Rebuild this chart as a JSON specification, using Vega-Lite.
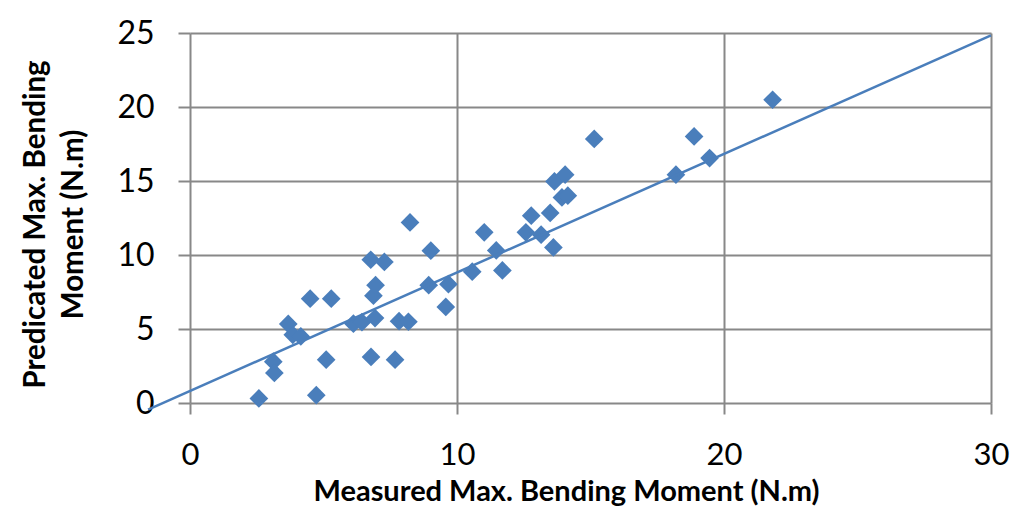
{
  "$schema": "https://vega.github.io/schema/vega-lite/v6.json",
  "autosize": "none",
  "width": 801,
  "height": 370,
  "padding": {"left": 190, "top": 33, "right": 22, "bottom": 106},
  "background": "white",
  "config": {"view": {"stroke": null}, "font": "Lato"},
  "datasets": {
    "points": [
      {"measured": 2.58, "predicted": 0.31},
      {"measured": 3.12, "predicted": 2.79},
      {"measured": 3.16, "predicted": 2.03},
      {"measured": 3.68, "predicted": 5.34},
      {"measured": 3.85, "predicted": 4.61},
      {"measured": 4.15, "predicted": 4.50},
      {"measured": 4.50, "predicted": 7.05},
      {"measured": 4.73, "predicted": 0.53},
      {"measured": 5.10, "predicted": 2.93},
      {"measured": 5.29, "predicted": 7.05},
      {"measured": 6.12, "predicted": 5.36},
      {"measured": 6.44, "predicted": 5.46},
      {"measured": 6.77, "predicted": 9.68},
      {"measured": 6.78, "predicted": 3.11},
      {"measured": 6.87, "predicted": 7.25},
      {"measured": 6.95, "predicted": 7.96},
      {"measured": 6.93, "predicted": 5.74},
      {"measured": 7.28, "predicted": 9.53},
      {"measured": 7.68, "predicted": 2.93},
      {"measured": 7.83, "predicted": 5.53},
      {"measured": 8.18, "predicted": 5.49},
      {"measured": 8.24, "predicted": 12.20},
      {"measured": 9.02, "predicted": 10.29},
      {"measured": 8.94, "predicted": 7.96},
      {"measured": 9.68, "predicted": 8.03},
      {"measured": 9.58, "predicted": 6.49},
      {"measured": 10.57, "predicted": 8.87},
      {"measured": 11.02, "predicted": 11.53},
      {"measured": 11.47, "predicted": 10.31},
      {"measured": 11.70, "predicted": 8.96},
      {"measured": 12.58, "predicted": 11.53},
      {"measured": 12.78, "predicted": 12.66},
      {"measured": 13.15, "predicted": 11.37},
      {"measured": 13.49, "predicted": 12.84},
      {"measured": 13.61, "predicted": 10.51},
      {"measured": 13.65, "predicted": 14.97},
      {"measured": 14.05, "predicted": 15.43},
      {"measured": 13.93, "predicted": 13.89},
      {"measured": 14.15, "predicted": 14.01},
      {"measured": 15.14, "predicted": 17.84},
      {"measured": 18.20, "predicted": 15.43},
      {"measured": 18.88, "predicted": 18.01},
      {"measured": 19.46, "predicted": 16.55},
      {"measured": 21.82, "predicted": 20.49}
    ],
    "trend": [
      {"measured": -1.57, "predicted": -0.45},
      {"measured": 30, "predicted": 24.84}
    ]
  },
  "layer": [
    {
      "data": {"name": "points"},
      "mark": {"type": "point", "shape": "diamond", "filled": true, "opacity": 1, "size": 350, "color": "#4a7ebb"},
      "encoding": {
        "x": {
          "field": "measured", "type": "quantitative",
          "scale": {"domain": [0, 30], "nice": false},
          "axis": {
            "values": [0, 10, 20, 30],
            "title": "Measured Max. Bending Moment (N.m)",
            "grid": true, "gridColor": "#888888", "gridWidth": 2,
            "domain": false,
            "ticks": true, "tickColor": "#888888", "tickWidth": 2, "tickSize": 11,
            "labelFont": "Lato", "labelFontSize": 31, "labelColor": "#000000",
            "labelBaseline": "alphabetic", "labelPadding": 50,
            "labelFlush": false, "labelOverlap": false,
            "titleFont": "Lato", "titleFontSize": 29, "titleFontWeight": "bold", "titleColor": "#000000",
            "titleX": 376, "titleY": 97, "titleBaseline": "alphabetic", "titleAlign": "center", "titleAnchor": null
          }
        },
        "y": {
          "field": "predicted", "type": "quantitative",
          "scale": {"domain": [0, 25], "nice": false},
          "axis": {
            "values": [0, 5, 10, 15, 20, 25],
            "title": ["Predicated Max. Bending", "Moment (N.m)"],
            "grid": true, "gridColor": "#888888", "gridWidth": 2,
            "domain": false,
            "ticks": true, "tickColor": "#888888", "tickWidth": 2, "tickSize": 12,
            "labelFont": "Lato", "labelFontSize": 32, "labelColor": "#000000",
            "labelPadding": 24, "labelBaseline": "middle",
            "labelFlush": false, "labelOverlap": false,
            "titleFont": "Lato", "titleFontSize": 29.5, "titleFontWeight": "bold", "titleColor": "#000000",
            "titleAngle": 270, "titleLineHeight": 38,
            "titleX": -146, "titleY": 191, "titleBaseline": "alphabetic", "titleAlign": "center", "titleAnchor": null
          }
        }
      }
    },
    {
      "data": {"name": "trend"},
      "mark": {"type": "line", "color": "#4a7ebb", "strokeWidth": 2.5, "clip": false},
      "encoding": {
        "x": {"field": "measured", "type": "quantitative"},
        "y": {"field": "predicted", "type": "quantitative"}
      }
    }
  ]
}
